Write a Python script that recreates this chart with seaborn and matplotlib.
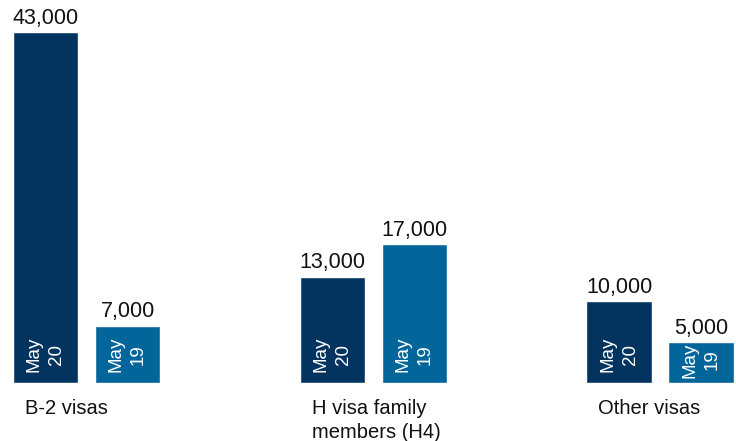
import pandas as pd
import matplotlib
matplotlib.use("Agg")
import matplotlib.pyplot as plt
import seaborn as sns

sns.set_style("white")
plt.rcParams["font.family"] = ["Liberation Sans", "DejaVu Sans"]

# Visas issued, May 2020 vs May 2019
categories = ["B-2 visas", "H visa family\nmembers (H4)", "Other visas"]
periods = ["May 20", "May 19"]
may_20 = [43000, 13000, 10000]
may_19 = [7000, 17000, 5000]

colors = ["#02345f", "#03669a"]


def build_frame():
    """Long-form table for seaborn"""
    rows = []
    for cat, v20, v19 in zip(categories, may_20, may_19):
        rows.append({"category": cat, "period": periods[0], "visas": v20})
        rows.append({"category": cat, "period": periods[1], "visas": v19})
    return pd.DataFrame(rows)


def main():
    df = build_frame()

    fig = plt.figure(figsize=(7.36, 4.41), dpi=100)
    ax = fig.add_axes([0, 58 / 441, 1, 383 / 441])

    sns.barplot(data=df, x="category", y="visas", hue="period",
                hue_order=periods, order=categories, palette=colors,
                width=0.572, gap=0.206, saturation=1, legend=False, ax=ax)

    ax.set_xlim(-0.3017, 2.265)
    ax.set_ylim(0, 46920)
    ax.axis("off")

    renderer = fig.canvas.get_renderer()
    to_data = ax.transData.inverted()
    px_per_pt = fig.dpi / 72

    # period labels inside bars, value labels above (kept clear of the inner text)
    for container, period in zip(ax.containers, periods):
        name, yr = period.split()
        for p in container:
            cx = p.get_x() + p.get_width() / 2
            inner = ax.annotate(f"{name}\n{yr}", xy=(cx, 0),
                                xytext=(0, 8), textcoords="offset points",
                                rotation=90, ha="center", va="bottom",
                                multialignment="center", linespacing=1.4,
                                fontsize=13.5, color="white")
            bb = inner.get_window_extent(renderer=renderer)
            bar_top = ax.transData.transform((0, p.get_height()))[1]
            if bb.y1 > bar_top:
                # short bar: drop the text closer to the base so it fits
                shift = min((bb.y1 - bar_top) / px_per_pt, 4.5)
                inner.set_position((0, 8 - shift))
                bb = inner.get_window_extent(renderer=renderer)
            inner_top = to_data.transform((0, bb.y1))[1]
            top = max(p.get_height(), inner_top)
            ax.annotate(f"{p.get_height():,.0f}", xy=(cx, top),
                        xytext=(0, 2.5), textcoords="offset points",
                        ha="center", va="bottom", fontsize=15.5,
                        color="#111111")

    # category labels under the first bar of each group
    for cat, p in zip(categories, ax.containers[0]):
        ax.annotate(cat, xy=(p.get_x(), 0), xytext=(8.5, -11.5),
                    textcoords="offset points", ha="left", va="top",
                    linespacing=1.35, fontsize=14.5, color="#111111",
                    annotation_clip=False)

    fig.savefig("out.png", dpi=100)
    plt.close(fig)


if __name__ == "__main__":
    main()
